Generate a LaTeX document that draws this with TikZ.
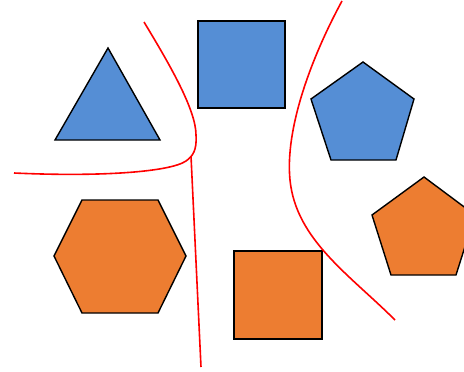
\documentclass[tikz,border=0pt]{standalone}
\usepackage{xcolor}
\usepackage{tikz}
\usetikzlibrary{calc}

\definecolor{shapeblue}{HTML}{558ED5}
\definecolor{shapeorange}{HTML}{ED7D31}

\begin{document}
\begin{tikzpicture}[x=1pt, y=-1pt,
  blueshape/.style={fill=shapeblue, draw=black, line width=1.4pt, line join=miter},
  orangeshape/.style={fill=shapeorange, draw=black, line width=1.4pt, line join=miter},
  boundary/.style={draw=red, line width=1.6pt}]
\useasboundingbox (0,0) rectangle (464,372);
\clip (0,0) rectangle (464,372);
% blue class
\draw[blueshape] (108,48) -- (160,140) -- (55,140) -- cycle;
\draw[blueshape] (198,21) rectangle (285,108);
\draw[blueshape] (363,62) -- (414,99) -- (396,160) -- (331,160) -- (311,99) -- cycle;
% orange class
\draw[orangeshape] (82,200) -- (158,200) -- (186,256) -- (158,313) -- (82,313) -- (54,256) -- cycle;
\draw[orangeshape] (234,251) rectangle (322,339);
\draw[orangeshape] (424,177) -- (475,215) -- (456,275) -- (391,275) -- (372,215) -- cycle;
% decision boundaries
\draw[boundary] (144,22) .. controls (170,65) and (196,110) .. (196,135)
  .. controls (197,150) and (193,156) .. (186,161)
  .. controls (170,172) and (100,177) .. (14,173);
\coordinate (split) at (191,156);
\coordinate (bottom) at (201,367);
\draw[boundary] (split) -- (bottom);
\draw[boundary] (342,1) .. controls (310,60) and (285,130) .. (290,180)
  .. controls (296,240) and (350,275) .. (395,320);
\end{tikzpicture}
\end{document}
